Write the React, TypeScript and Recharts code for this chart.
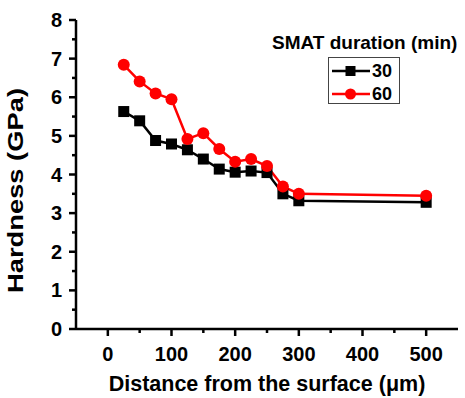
import React from "react";
import { LineChart, Line, XAxis, YAxis, Label } from "recharts";

const distances = [25, 50, 75, 100, 125, 150, 175, 200, 225, 250, 275, 300, 500];
const hardness30 = [5.63, 5.39, 4.88, 4.79, 4.64, 4.4, 4.14, 4.06, 4.09, 4.05, 3.5, 3.32, 3.28];
const hardness60 = [6.84, 6.41, 6.1, 5.95, 4.92, 5.07, 4.66, 4.33, 4.4, 4.22, 3.69, 3.5, 3.45];
const xTicks = [0, 50, 100, 150, 200, 250, 300, 350, 400, 450, 500];
const yTicks = [0, 0.5, 1, 1.5, 2, 2.5, 3, 3.5, 4, 4.5, 5, 5.5, 6, 6.5, 7, 7.5, 8];
const seriesNames = ["30", "60"];
const legendTitle = "SMAT duration (min)";
const xTitle = "Distance from the surface (\u03bcm)";
const yTitle = "Hardness (GPa)";

const data = distances.map((d, i) => ({ d, s30: hardness30[i], s60: hardness60[i] }));

const FONT = '"Liberation Sans", Arial, Helvetica, sans-serif';

const XTick = (props: any) => {
  const { x, y, payload } = props;
  const v = payload.value;
  const major = v % 100 === 0;
  return (
    <g>
      <line x1={x} x2={x} y1={y} y2={y + (major ? 7 : 4)} stroke="#000" strokeWidth={2.5} />
      {major && (
        <text x={x} y={y + 32} textAnchor="middle" fontFamily={FONT} fontWeight="bold" fontSize={20} fill="#000">
          {v}
        </text>
      )}
    </g>
  );
};

const YTick = (props: any) => {
  const { x, y, payload } = props;
  const v = payload.value;
  const major = Number.isInteger(v);
  return (
    <g>
      <line x1={x - (major ? 7 : 4)} x2={x} y1={y} y2={y} stroke="#000" strokeWidth={2.5} />
      {major && (
        <text x={x - 14} y={y + 7} textAnchor="end" fontFamily={FONT} fontWeight="bold" fontSize={20} fill="#000">
          {v}
        </text>
      )}
    </g>
  );
};

const SquareDot = (props: any) => {
  const { cx, cy } = props;
  return <rect x={cx - 5.5} y={cy - 5.5} width={11} height={11} fill="#000" />;
};

const CircleDot = (props: any) => {
  const { cx, cy } = props;
  return <circle cx={cx} cy={cy} r={6} fill="#ff0000" />;
};

const LegendBox = () => (
  <div
    style={{
      position: "absolute",
      left: 272,
      top: 32,
      width: 195,
      fontFamily: FONT,
      fontWeight: "bold",
      color: "#000",
      pointerEvents: "none",
    }}
  >
    <div style={{ fontSize: 19, lineHeight: "22px", whiteSpace: "nowrap" }}>{legendTitle}</div>
    <div
      style={{
        marginTop: 3,
        marginLeft: 56,
        width: 72,
        height: 47,
        border: "1.5px solid #444",
        boxSizing: "border-box",
        position: "relative",
      }}
    >
      {seriesNames.map((n, i) => (
        <div key={n} style={{ position: "absolute", left: 2, top: 3 + i * 23, height: 20, display: "flex", alignItems: "center" }}>
          <svg width={40} height={16}>
            <line x1={1} x2={39} y1={8} y2={8} stroke={i === 0 ? "#000" : "#ff0000"} strokeWidth={2.5} />
            {i === 0 ? (
              <rect x={14.5} y={3} width={10} height={10} fill="#000" />
            ) : (
              <circle cx={19.5} cy={8} r={5.5} fill="#ff0000" />
            )}
          </svg>
          <span style={{ fontSize: 18, marginLeft: 1 }}>{n}</span>
        </div>
      ))}
    </div>
  </div>
);

const YTitle = (props: any) => {
  const vb = props.viewBox || { x: 0, y: 0, width: 0, height: 0 };
  const cx = vb.x + 15;
  const cy = vb.y + vb.height / 2 + 16;
  return (
    <text
      x={cx}
      y={cy}
      transform={`rotate(-90 ${cx} ${cy})`}
      textAnchor="middle"
      dominantBaseline="central"
      fontFamily={FONT}
      fontWeight="bold"
      fontSize={22}
      fill="#000"
      textLength={205}
      lengthAdjust="spacingAndGlyphs"
    >
      {yTitle}
    </text>
  );
};

export default function App() {
  return (
    <div style={{ position: "absolute", left: 0, top: 0, width: 465, height: 398, background: "#fff" }}>
      <LineChart width={465} height={398} data={data} margin={{ top: 20, right: 7, bottom: 0, left: 0 }}>
        <XAxis
          dataKey="d"
          type="number"
          domain={[-50, 550]}
          ticks={xTicks}
          interval={0}
          tick={<XTick />}
          tickLine={false}
          tickSize={0}
          tickMargin={0}
          height={69}
          axisLine={{ stroke: "#000", strokeWidth: 2.5 }}
        >
          <Label
            value={xTitle}
            position="insideBottom"
            offset={7}
            style={{ fontFamily: FONT, fontWeight: "bold", fontSize: 21.5, fill: "#000" }}
          />
        </XAxis>
        <YAxis
          type="number"
          domain={[0, 8]}
          ticks={yTicks}
          interval={0}
          tick={<YTick />}
          tickLine={false}
          tickSize={0}
          tickMargin={0}
          width={76}
          axisLine={{ stroke: "#000", strokeWidth: 2.5 }}
        >
          <Label content={<YTitle />} />
        </YAxis>
        <Line
          dataKey="s30"
          stroke="#000"
          strokeWidth={2.5}
          dot={<SquareDot />}
          activeDot={false}
          isAnimationActive={false}
        />
        <Line
          dataKey="s60"
          stroke="#ff0000"
          strokeWidth={2.5}
          dot={<CircleDot />}
          activeDot={false}
          isAnimationActive={false}
        />
      </LineChart>
      <LegendBox />
    </div>
  );
}
